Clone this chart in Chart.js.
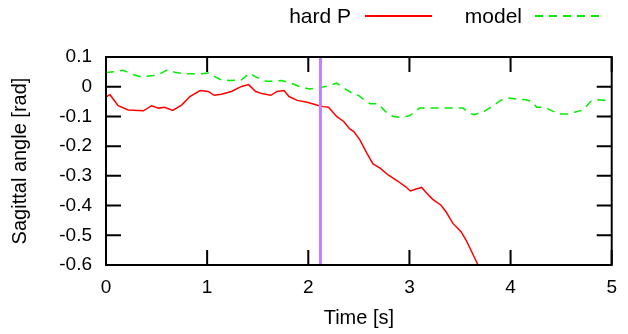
<!DOCTYPE html>
<html>
<head>
<meta charset="utf-8">
<script src="https://cdn.jsdelivr.net/npm/chart.js@4"></script>
<style>
  body { margin: 0; background: #fff; }
  canvas { display: block; }
</style>
</head>
<body>
<canvas id="chart" width="628" height="334"></canvas>
<script>
const hardPTime = [0, 0.02, 0.04, 0.12, 0.22, 0.37, 0.45, 0.52, 0.58, 0.66, 0.75, 0.83, 0.93, 1.01, 1.07, 1.14, 1.24, 1.34, 1.41, 1.48, 1.55, 1.63, 1.69, 1.76, 1.81, 1.89, 1.99, 2.10, 2.15, 2.20, 2.28, 2.35, 2.41, 2.45, 2.51, 2.58, 2.64, 2.71, 2.79, 2.89, 2.96, 3.01, 3.06, 3.12, 3.17, 3.23, 3.31, 3.36, 3.43, 3.51, 3.56, 3.67, 3.72];
const hardPAngle = [-0.035, -0.03, -0.027, -0.064, -0.078, -0.081, -0.064, -0.072, -0.069, -0.080, -0.061, -0.033, -0.013, -0.016, -0.029, -0.025, -0.016, 0.001, 0.007, -0.016, -0.024, -0.029, -0.016, -0.013, -0.033, -0.046, -0.052, -0.063, -0.067, -0.069, -0.100, -0.117, -0.142, -0.151, -0.179, -0.224, -0.260, -0.274, -0.297, -0.319, -0.336, -0.351, -0.345, -0.339, -0.358, -0.379, -0.398, -0.420, -0.460, -0.488, -0.516, -0.594, -0.63];

const modelTime = [0, 0.09, 0.17, 0.22, 0.27, 0.35, 0.47, 0.53, 0.61, 0.68, 0.76, 0.86, 0.94, 1.02, 1.07, 1.14, 1.22, 1.34, 1.42, 1.48, 1.58, 1.66, 1.74, 1.83, 1.91, 2.01, 2.10, 2.20, 2.28, 2.35, 2.43, 2.50, 2.55, 2.61, 2.69, 2.76, 2.84, 2.91, 3.00, 3.10, 3.20, 3.31, 3.43, 3.53, 3.59, 3.64, 3.74, 3.84, 3.90, 3.97, 4.07, 4.15, 4.21, 4.26, 4.33, 4.39, 4.48, 4.56, 4.64, 4.72, 4.79, 4.87, 4.95, 5.0];
const modelAngle = [0.048, 0.051, 0.055, 0.048, 0.040, 0.033, 0.038, 0.043, 0.057, 0.049, 0.044, 0.044, 0.044, 0.046, 0.035, 0.023, 0.021, 0.023, 0.046, 0.033, 0.018, 0.018, 0.021, 0.012, 0.001, -0.008, -0.004, 0.003, 0.012, -0.004, -0.021, -0.030, -0.044, -0.057, -0.057, -0.083, -0.100, -0.103, -0.098, -0.072, -0.072, -0.072, -0.072, -0.072, -0.089, -0.094, -0.083, -0.061, -0.046, -0.038, -0.042, -0.044, -0.050, -0.069, -0.069, -0.078, -0.092, -0.092, -0.085, -0.078, -0.050, -0.044, -0.047, -0.045];

// vertical marker
const markerTime = 2.12;

const xTickValues = [0, 1, 2, 3, 4, 5];
const xTickLabels = ['0', '1', '2', '3', '4', '5'];
const yTickValues = [0.1, 0, -0.1, -0.2, -0.3, -0.4, -0.5, -0.6];
const yTickLabels = ['0.1', '0', '-0.1', '-0.2', '-0.3', '-0.4', '-0.5', '-0.6'];

const toPoints = (xs, ys) => xs.map((x, i) => ({ x, y: ys[i] }));

Chart.defaults.font.family = '"Liberation Sans", Arial, sans-serif';
Chart.defaults.font.size = 19;
Chart.defaults.color = '#000';

// gnuplot style box, inward mirrored ticks, key with text before sample
const frame = {
  id: 'frame',
  afterDraw(chart) {
    const { ctx, chartArea: a, scales: { x, y } } = chart;
    const tl = 15;
    ctx.save();
    ctx.strokeStyle = '#000';
    ctx.lineWidth = 2;
    ctx.beginPath();
    x.ticks.forEach(t => {
      const px = x.getPixelForValue(t.value);
      ctx.moveTo(px, a.bottom); ctx.lineTo(px, a.bottom - tl);
      ctx.moveTo(px, a.top); ctx.lineTo(px, a.top + tl);
    });
    y.ticks.forEach(t => {
      const py = y.getPixelForValue(t.value);
      ctx.moveTo(a.left, py); ctx.lineTo(a.left + tl, py);
      ctx.moveTo(a.right, py); ctx.lineTo(a.right - tl, py);
    });
    ctx.stroke();
    ctx.strokeRect(a.left, a.top, a.right - a.left, a.bottom - a.top);

    const keys = [
      { ds: chart.data.datasets[1], textRight: 351, x0: 365, x1: 432 },
      { ds: chart.data.datasets[2], textRight: 522, x0: 535, x1: 602 }
    ];
    ctx.font = '21px "Liberation Sans", Arial, sans-serif';
    ctx.textAlign = 'right';
    ctx.textBaseline = 'alphabetic';
    keys.forEach(k => {
      ctx.fillStyle = '#000';
      ctx.fillText(k.ds.label, k.textRight, 23);
      ctx.strokeStyle = k.ds.borderColor;
      ctx.lineWidth = 2;
      ctx.setLineDash(k.ds.borderDash || []);
      ctx.beginPath();
      ctx.moveTo(k.x0, 16);
      ctx.lineTo(k.x1, 16);
      ctx.stroke();
      ctx.setLineDash([]);
    });
    ctx.restore();
  }
};

new Chart(document.getElementById('chart'), {
  type: 'line',
  data: {
    datasets: [
      {
        label: 'marker',
        data: [{ x: markerTime, y: -0.6 }, { x: markerTime, y: 0.1 }],
        borderColor: '#c080ff',
        borderWidth: 3,
        pointRadius: 0
      },
      {
        label: 'hard P',
        data: toPoints(hardPTime, hardPAngle),
        borderColor: '#ff0000',
        borderWidth: 1.5,
        pointRadius: 0,
        tension: 0
      },
      {
        label: 'model',
        data: toPoints(modelTime, modelAngle),
        borderColor: '#00ee00',
        borderWidth: 1.5,
        borderDash: [8, 6],
        pointRadius: 0,
        tension: 0
      }
    ]
  },
  options: {
    responsive: false,
    animation: false,
    devicePixelRatio: 1,
    layout: { padding: { top: 57, right: 13, left: 0, bottom: 0 } },
    plugins: {
      legend: { display: false },
      tooltip: { enabled: false }
    },
    scales: {
      x: {
        type: 'linear',
        min: 0,
        max: 5,
        grid: { display: false, drawTicks: false },
        border: { display: false },
        afterBuildTicks: s => { s.ticks = xTickValues.map(v => ({ value: v })); },
        afterFit: s => { s.height = 69; },
        ticks: {
          padding: 11,
          maxRotation: 0,
          callback: (v, i) => xTickLabels[i]
        },
        title: {
          display: true,
          text: 'Time [s]',
          font: { size: 20 },
          padding: { top: 0, bottom: 4 }
        }
      },
      y: {
        min: -0.6,
        max: 0.1,
        grid: { display: false, drawTicks: false },
        border: { display: false },
        afterBuildTicks: s => { s.ticks = yTickValues.map(v => ({ value: v })); },
        afterFit: s => { s.width = 106; },
        ticks: {
          padding: 14,
          callback: (v, i) => yTickLabels[i]
        },
        title: {
          display: true,
          text: 'Sagittal angle [rad]',
          font: { size: 20 },
          padding: { top: 8, bottom: 0 }
        }
      }
    }
  },
  plugins: [frame]
});
</script>
</body>
</html>
